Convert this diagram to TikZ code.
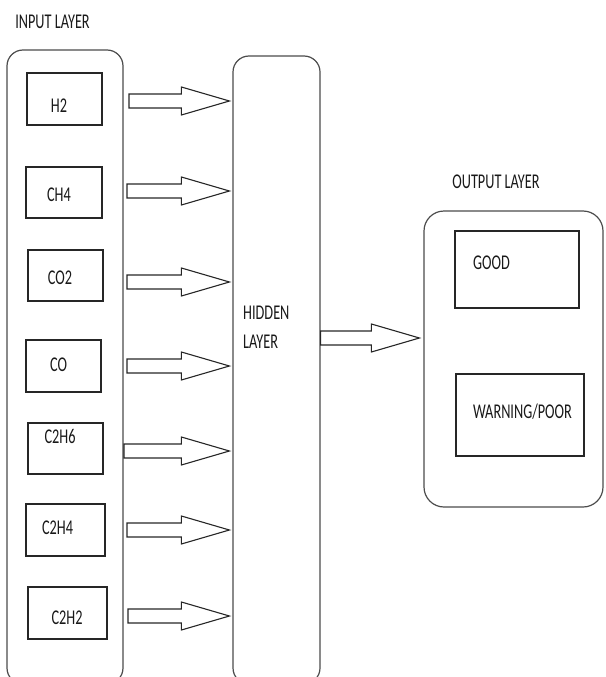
\documentclass[tikz,border=0pt]{standalone}
\usepackage{fontspec}
\setmainfont[FakeStretch=0.68]{Carlito}
\usetikzlibrary{calc}
\newcommand{\blockarr}[2]{%
  \draw[arrowline] let \p1=(#1), \p2=(#2) in
    (\x1,\y1+7pt) -- (\x2-48pt,\y1+7pt) -- (\x2-48pt,\y1+14pt) -- (\x2,\y2)
    -- (\x2-48pt,\y1-14pt) -- (\x2-48pt,\y1-7pt) -- (\x1,\y1-7pt) -- cycle;}
\begin{document}
\begin{tikzpicture}[x=1pt,y=-1pt,
  layer/.style={draw=black!70, line width=1.2pt, rectangle, rounded corners=16pt, inner sep=0pt},
  box/.style={draw=black!85, line width=1.2pt, rectangle, inner sep=0pt},
  lbl/.style={font=\fontsize{21}{29}\selectfont, text=black!90, inner sep=0pt, text height=13.5pt, text depth=0pt},
  arrowline/.style={draw=black!85, line width=1.1pt}]
\useasboundingbox (0,0) rectangle (605,677);
% layers
\node[layer, minimum width=116, minimum height=634] (inL) at (65,367) {};
\node[layer, minimum width=87, minimum height=628] (hid) at (276.5,370) {};
\node[layer, rounded corners=20pt, minimum width=179, minimum height=296] (outL) at (513.5,359) {};
% titles
\node[lbl] (tin) at (52.5,22) {INPUT LAYER};
\node[lbl] (tout) at (496,182) {OUTPUT LAYER};
\node[font=\fontsize{21}{29}\selectfont, text=black!90, inner sep=0pt, align=left, anchor=north west] (thid) at (243,306.2) {HIDDEN\\LAYER};
% input boxes
\node[box, minimum width=75, minimum height=52] (h2) at (64.5,99) {};
\node[box, minimum width=76, minimum height=51] (ch4) at (64,192.5) {};
\node[box, minimum width=75, minimum height=51] (co2) at (65.5,275.5) {};
\node[box, minimum width=75, minimum height=52] (co) at (63.5,366) {};
\node[box, minimum width=75, minimum height=51] (c2h6) at (65.5,448.5) {};
\node[box, minimum width=79, minimum height=52] (c2h4) at (65.5,530) {};
\node[box, minimum width=79, minimum height=52] (c2h2) at (67.5,613) {};
\node[lbl] (lh2) at (59,106) {H2};
\node[lbl] (lch4) at (59,195) {CH4};
\node[lbl] (lco2) at (60,278) {CO2};
\node[lbl] (lco) at (58.5,365) {CO};
\node[lbl] (lc2h6) at (60,436.5) {C2H6};
\node[lbl] (lc2h4) at (57.5,527.5) {C2H4};
\node[lbl] (lc2h2) at (67,618) {C2H2};
% output boxes
\node[box, minimum width=124, minimum height=77] (good) at (517,269.5) {};
\node[box, minimum width=128, minimum height=82] (warn) at (520,415) {};
\node[lbl] (lgood) at (491.5,263) {GOOD};
\node[lbl] (lwarn) at (522.5,412) {WARNING/POOR};
% arrow anchors
\coordinate (s1) at (129,101);
\coordinate (s2) at (127,191);
\coordinate (s3) at (127,282);
\coordinate (s4) at (127,366);
\coordinate (s5) at (124,451);
\coordinate (s6) at (127,530);
\coordinate (s7) at (128,616);
\coordinate (e1) at ($(hid.west |- s1)+(-3,0)$);
\coordinate (e2) at ($(hid.west |- s2)+(-3,0)$);
\coordinate (e3) at ($(hid.west |- s3)+(-3,0)$);
\coordinate (e4) at ($(hid.west |- s4)+(-3,0)$);
\coordinate (e5) at ($(hid.west |- s5)+(-3,0)$);
\coordinate (e6) at ($(hid.west |- s6)+(-3,0)$);
\coordinate (e7) at ($(hid.west |- s7)+(-3,0)$);
\coordinate (so) at (hid.east |- 0,338);
\coordinate (eo) at ($(outL.west |- so)+(-4,0)$);
\blockarr{s1}{e1}
\blockarr{s2}{e2}
\blockarr{s3}{e3}
\blockarr{s4}{e4}
\blockarr{s5}{e5}
\blockarr{s6}{e6}
\blockarr{s7}{e7}
\blockarr{so}{eo}
\end{tikzpicture}
\end{document}
